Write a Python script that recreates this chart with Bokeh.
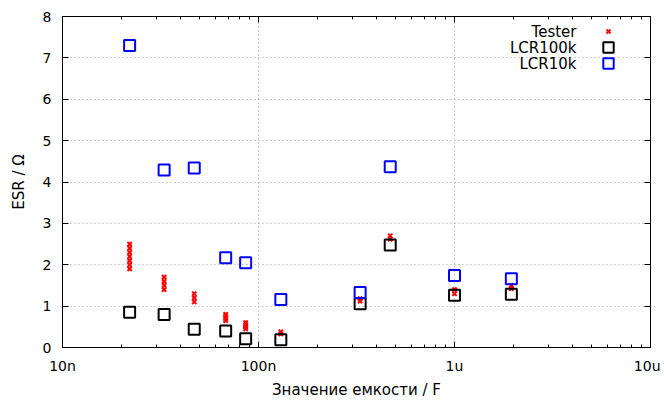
from bokeh.plotting import figure
from bokeh.models import (FixedTicker, LinearAxis, LogAxis, Range1d, Legend, LegendItem,
                          CustomJSTickFormatter, Label)
from bokeh.core.properties import value
from bokeh.embed import file_html
from bokeh.resources import INLINE

# Data (capacitance in F, ESR in Ohm)
tester_c = [22e-9]*7 + [33e-9]*4 + [47e-9]*3 + [68e-9]*4 + [86e-9]*4 + [130e-9]*2 \
    + [330e-9]*2 + [470e-9]*2 + [1e-6]*2 + [1.95e-6]*2
tester_esr = [2.5, 2.4, 2.3, 2.2, 2.1, 2.0, 1.9,
              1.7, 1.6, 1.5, 1.4,
              1.3, 1.2, 1.1,
              0.8, 0.75, 0.7, 0.65,
              0.6, 0.55, 0.5, 0.45,
              0.38, 0.33,
              1.18, 1.12,
              2.7, 2.62,
              1.4, 1.3,
              1.5, 1.42]
lcr_c = [22e-9, 33e-9, 47e-9, 68e-9, 86e-9, 130e-9, 330e-9, 470e-9, 1e-6, 1.95e-6]
lcr100k_esr = [0.85, 0.8, 0.44, 0.4, 0.21, 0.19, 1.06, 2.48, 1.26, 1.29]
lcr10k_esr = [7.3, 4.29, 4.34, 2.17, 2.05, 1.16, 1.33, 4.37, 1.74, 1.66]

series_names = ["Tester", "LCR100k", "LCR10k"]
x_ticks = [1e-8, 1e-7, 1e-6, 1e-5]
x_tick_labels = ["10n", "100n", "1u", "10u"]
y_ticks = [0, 1, 2, 3, 4, 5, 6, 7, 8]

FONT = "DejaVu Sans"
FS = "14px"
FS_LBL = "15px"

W, H = 660, 401
BL, BR, BT, BB = 62, 10, 16, 53
FRAME_H = H - BT - BB

p = figure(width=W, height=H, x_axis_type="log",
           x_range=Range1d(1e-8, 1e-5), y_range=Range1d(0, 8),
           output_backend="svg", toolbar_location=None,
           min_border_left=BL, min_border_right=BR, min_border_top=BT, min_border_bottom=BB)

minors = [m * d for d in [1e-8, 1e-7, 1e-6] for m in range(2, 10)]
xt = FixedTicker(ticks=x_ticks, minor_ticks=minors)
yt = FixedTicker(ticks=y_ticks)

p.xaxis.ticker = xt
p.yaxis.ticker = yt
p.xaxis.formatter = CustomJSTickFormatter(
    args=dict(labels=x_tick_labels),
    code="const i = Math.round(Math.log10(tick)) + 8; return (i >= 0 && i < labels.length) ? labels[i] : '';")

for ax in [p.xaxis[0], p.yaxis[0]]:
    ax.major_tick_in = 6
    ax.major_tick_out = 0
    ax.minor_tick_in = 3
    ax.minor_tick_out = 0
    ax.axis_line_color = "black"
    ax.major_tick_line_color = "black"
    ax.minor_tick_line_color = "black"
    ax.major_label_text_font = FONT
    ax.major_label_text_font_size = FS
    ax.major_label_text_color = "black"
    ax.axis_label_text_font = FONT
    ax.axis_label_text_font_size = FS_LBL
    ax.axis_label_text_font_style = "normal"
    ax.axis_label_text_color = "black"
p.yaxis.minor_tick_line_color = None
p.xaxis.axis_label = "Значение емкости / F"
p.yaxis.axis_label = "ESR / Ω"
p.xaxis.major_label_standoff = 10
p.yaxis.major_label_standoff = 11
p.xaxis.axis_label_standoff = 4
p.yaxis.axis_label_standoff = 12

# mirror axes (no labels)
top = LogAxis(ticker=xt, formatter=CustomJSTickFormatter(code="return '';"),
              major_label_text_font_size="1px", major_label_standoff=0,
              major_tick_in=6, major_tick_out=0,
              minor_tick_in=3, minor_tick_out=0, axis_line_color="black")
right = LinearAxis(ticker=yt, formatter=CustomJSTickFormatter(code="return '';"),
                   major_label_text_font_size="1px", major_label_standoff=0,
                   major_tick_in=6, major_tick_out=0,
                   minor_tick_line_color=None, axis_line_color="black")
p.add_layout(top, "above")
p.add_layout(right, "right")

p.xgrid.grid_line_color = "#a0a0a0"
p.xgrid.grid_line_dash = "1 3"
p.ygrid.grid_line_color = "#a0a0a0"
p.ygrid.grid_line_dash = "1 3"
p.outline_line_color = "black"

r1 = p.scatter(tester_c, tester_esr, marker="x", size=6, line_color="red", line_width=2)
r2 = p.scatter(lcr_c, lcr100k_esr, marker="square", size=11, fill_color=None,
               line_color="black", line_width=2)
r3 = p.scatter(lcr_c, lcr10k_esr, marker="square", size=11, fill_color=None,
               line_color="blue", line_width=2)

# gnuplot-style key: text right-aligned, sample on its right
key_cx = 608 - BL            # sample centre, frame pixels from left
key_rows = [16, 32, 48]      # row centres, frame pixels from top
key_box = [14, 26, 26]       # legend sample box (marker size = 0.4 * box)
for r, cy, g in zip((r1, r2, r3), key_rows, key_box):
    lg = Legend(items=[LegendItem(label=value(" "), renderers=[r])],
                location=(key_cx - g / 2, FRAME_H - cy - g / 2),
                background_fill_alpha=0, border_line_color=None,
                label_text_font=FONT, label_text_font_size=FS, label_standoff=0,
                label_height=g, label_width=1, glyph_height=g, glyph_width=g,
                spacing=0, padding=0, margin=0)
    p.add_layout(lg)

for name, cy in zip(series_names, key_rows):
    p.add_layout(Label(x=576 - BL, y=FRAME_H - cy, x_units="screen", y_units="screen",
                       text=name, text_align="right", text_baseline="middle",
                       text_font=FONT, text_font_size=FS_LBL, text_color="black"))

open("out.html", "w").write(file_html(p, INLINE))
